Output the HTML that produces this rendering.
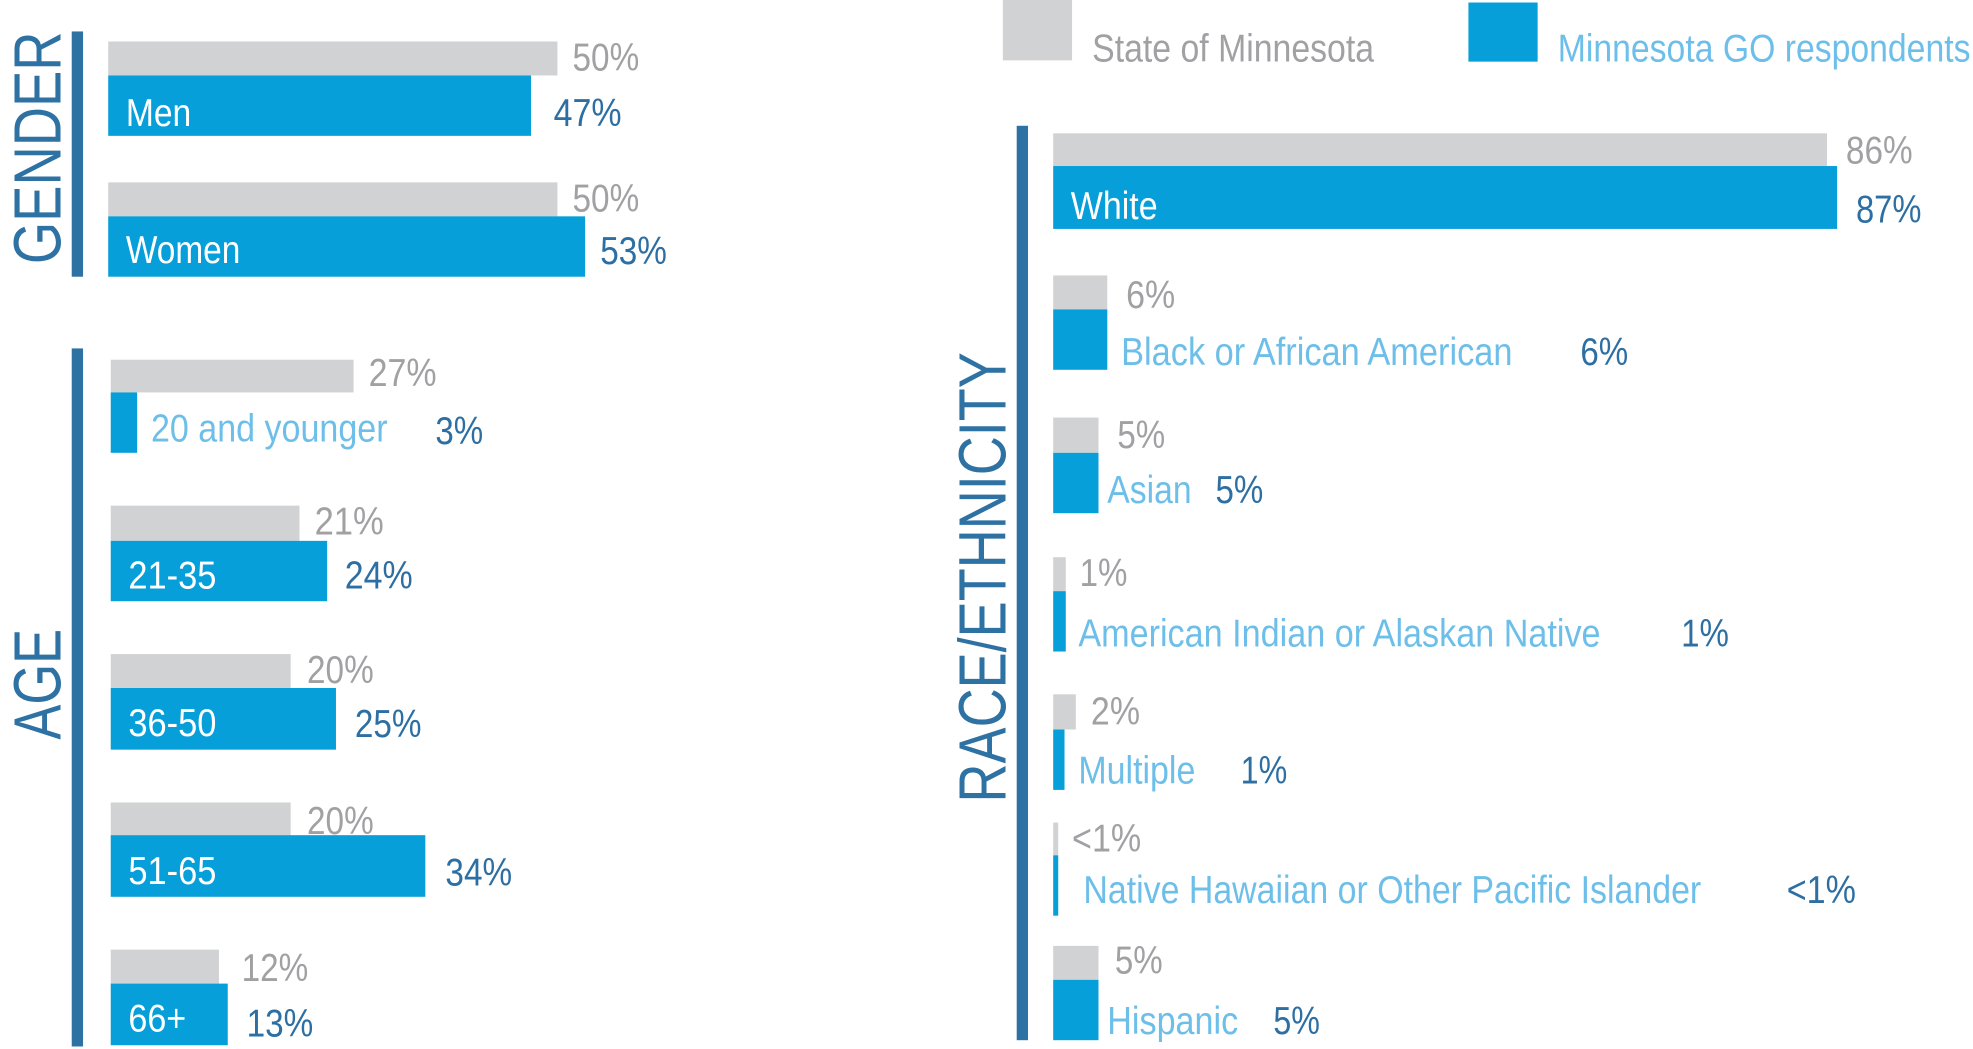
<!DOCTYPE html>
<html><head><meta charset="utf-8"><style>
html,body{margin:0;padding:0;background:#fff;}
svg{display:block;}
text{font-family:"Liberation Sans Narrow","Liberation Sans",sans-serif;font-size:31px;}
.g{fill:#a1a1a4}.d{fill:#2d6fa3}.l{fill:#6dbfe9}.w{fill:#fff}
</style></head><body>
<svg width="1973" height="1049" viewBox="0 0 1568 834" preserveAspectRatio="none" xmlns="http://www.w3.org/2000/svg">
<g fill="#2e72a4">
<rect x="57" y="25" width="9" height="195"/>
<rect x="57" y="277" width="9" height="555"/>
<rect x="808" y="100" width="9" height="727"/>
</g>
<g fill="#2e72a4" style="font-size:53px">
<text transform="translate(48,210) rotate(-90)" textLength="185" lengthAdjust="spacingAndGlyphs" style="font-size:53px">GENDER</text>
<text transform="translate(48,588) rotate(-90)" textLength="88" lengthAdjust="spacingAndGlyphs" style="font-size:53px">AGE</text>
<text transform="translate(799,638) rotate(-90)" textLength="358" lengthAdjust="spacingAndGlyphs" style="font-size:53px">RACE/ETHNICITY</text>
</g>
<!-- bars gray -->
<g fill="#d1d2d4">
<rect x="86" y="33" width="357" height="27"/>
<rect x="86" y="145" width="357" height="27"/>
<rect x="88" y="286" width="193" height="26"/>
<rect x="88" y="402" width="150" height="28"/>
<rect x="88" y="520" width="143" height="27"/>
<rect x="88" y="638" width="143" height="26"/>
<rect x="88" y="755" width="86" height="27"/>
<rect x="797" y="0" width="55" height="48"/>
<rect x="837" y="106" width="615" height="26"/>
<rect x="837" y="219" width="43" height="27"/>
<rect x="837" y="332" width="36" height="28"/>
<rect x="837" y="443" width="10" height="27"/>
<rect x="837" y="552" width="18" height="28"/>
<rect x="837" y="654" width="4" height="26"/>
<rect x="837" y="752" width="36" height="27"/>
</g>
<g fill="#069fd9">
<rect x="86" y="60" width="336" height="48"/>
<rect x="86" y="172" width="379" height="48"/>
<rect x="88" y="312" width="21" height="48"/>
<rect x="88" y="430" width="172" height="48"/>
<rect x="88" y="547" width="179" height="49"/>
<rect x="88" y="664" width="250" height="49"/>
<rect x="88" y="782" width="93" height="49"/>
<rect x="1167" y="2" width="55" height="47"/>
<rect x="837" y="132" width="623" height="50"/>
<rect x="837" y="246" width="43" height="48"/>
<rect x="837" y="360" width="36" height="48"/>
<rect x="837" y="470" width="10" height="48"/>
<rect x="837" y="580" width="9" height="48"/>
<rect x="837" y="680" width="4" height="48"/>
<rect x="837" y="779" width="36" height="48"/>
</g>
<!-- left text -->
<text class="g" x="455" y="56" textLength="53" lengthAdjust="spacingAndGlyphs">50%</text>
<text class="w" x="100" y="100" textLength="52" lengthAdjust="spacingAndGlyphs">Men</text>
<text class="d" x="440" y="100" textLength="54" lengthAdjust="spacingAndGlyphs">47%</text>
<text class="g" x="455" y="168" textLength="53" lengthAdjust="spacingAndGlyphs">50%</text>
<text class="w" x="100" y="209" textLength="91" lengthAdjust="spacingAndGlyphs">Women</text>
<text class="d" x="477" y="210" textLength="53" lengthAdjust="spacingAndGlyphs">53%</text>
<text class="g" x="293" y="307" textLength="54" lengthAdjust="spacingAndGlyphs">27%</text>
<text class="l" x="120" y="351" textLength="188" lengthAdjust="spacingAndGlyphs">20 and younger</text>
<text class="d" x="346" y="353" textLength="38" lengthAdjust="spacingAndGlyphs">3%</text>
<text class="g" x="250" y="425" textLength="55" lengthAdjust="spacingAndGlyphs">21%</text>
<text class="w" x="102" y="468" textLength="70" lengthAdjust="spacingAndGlyphs">21-35</text>
<text class="d" x="274" y="468" textLength="54" lengthAdjust="spacingAndGlyphs">24%</text>
<text class="g" x="244" y="543" textLength="53" lengthAdjust="spacingAndGlyphs">20%</text>
<text class="w" x="102" y="585" textLength="70" lengthAdjust="spacingAndGlyphs">36-50</text>
<text class="d" x="282" y="586" textLength="53" lengthAdjust="spacingAndGlyphs">25%</text>
<text class="g" x="244" y="663" textLength="53" lengthAdjust="spacingAndGlyphs">20%</text>
<text class="w" x="102" y="703" textLength="70" lengthAdjust="spacingAndGlyphs">51-65</text>
<text class="d" x="354" y="704" textLength="53" lengthAdjust="spacingAndGlyphs">34%</text>
<text class="g" x="192" y="780" textLength="53" lengthAdjust="spacingAndGlyphs">12%</text>
<text class="w" x="102" y="820" textLength="46" lengthAdjust="spacingAndGlyphs">66+</text>
<text class="d" x="196" y="824" textLength="53" lengthAdjust="spacingAndGlyphs">13%</text>
<!-- legend -->
<text class="g" x="868" y="49" textLength="224" lengthAdjust="spacingAndGlyphs">State of Minnesota</text>
<text class="l" x="1238" y="49" textLength="328" lengthAdjust="spacingAndGlyphs">Minnesota GO respondents</text>
<!-- right text -->
<text class="g" x="1467" y="130" textLength="53" lengthAdjust="spacingAndGlyphs">86%</text>
<text class="w" x="851" y="174" textLength="69" lengthAdjust="spacingAndGlyphs">White</text>
<text class="d" x="1475" y="177" textLength="52" lengthAdjust="spacingAndGlyphs">87%</text>
<text class="g" x="895" y="245" textLength="39" lengthAdjust="spacingAndGlyphs">6%</text>
<text class="l" x="891" y="290" textLength="311" lengthAdjust="spacingAndGlyphs">Black or African American</text>
<text class="d" x="1256" y="290" textLength="38" lengthAdjust="spacingAndGlyphs">6%</text>
<text class="g" x="888" y="356" textLength="38" lengthAdjust="spacingAndGlyphs">5%</text>
<text class="l" x="880" y="400" textLength="67" lengthAdjust="spacingAndGlyphs">Asian</text>
<text class="d" x="966" y="400" textLength="38" lengthAdjust="spacingAndGlyphs">5%</text>
<text class="g" x="858" y="466" textLength="38" lengthAdjust="spacingAndGlyphs">1%</text>
<text class="l" x="857" y="514" textLength="415" lengthAdjust="spacingAndGlyphs">American Indian or Alaskan Native</text>
<text class="d" x="1336" y="514" textLength="38" lengthAdjust="spacingAndGlyphs">1%</text>
<text class="g" x="867" y="576" textLength="39" lengthAdjust="spacingAndGlyphs">2%</text>
<text class="l" x="857" y="623" textLength="93" lengthAdjust="spacingAndGlyphs">Multiple</text>
<text class="d" x="986" y="623" textLength="37" lengthAdjust="spacingAndGlyphs">1%</text>
<text class="g" x="852" y="677" textLength="55" lengthAdjust="spacingAndGlyphs">&lt;1%</text>
<text class="l" x="861" y="718" textLength="491" lengthAdjust="spacingAndGlyphs">Native Hawaiian or Other Pacific Islander</text>
<text class="d" x="1420" y="718" textLength="55" lengthAdjust="spacingAndGlyphs">&lt;1%</text>
<text class="g" x="886" y="774" textLength="38" lengthAdjust="spacingAndGlyphs">5%</text>
<text class="l" x="880" y="822" textLength="104" lengthAdjust="spacingAndGlyphs">Hispanic</text>
<text class="d" x="1012" y="822" textLength="37" lengthAdjust="spacingAndGlyphs">5%</text>
</svg>
</body></html>
